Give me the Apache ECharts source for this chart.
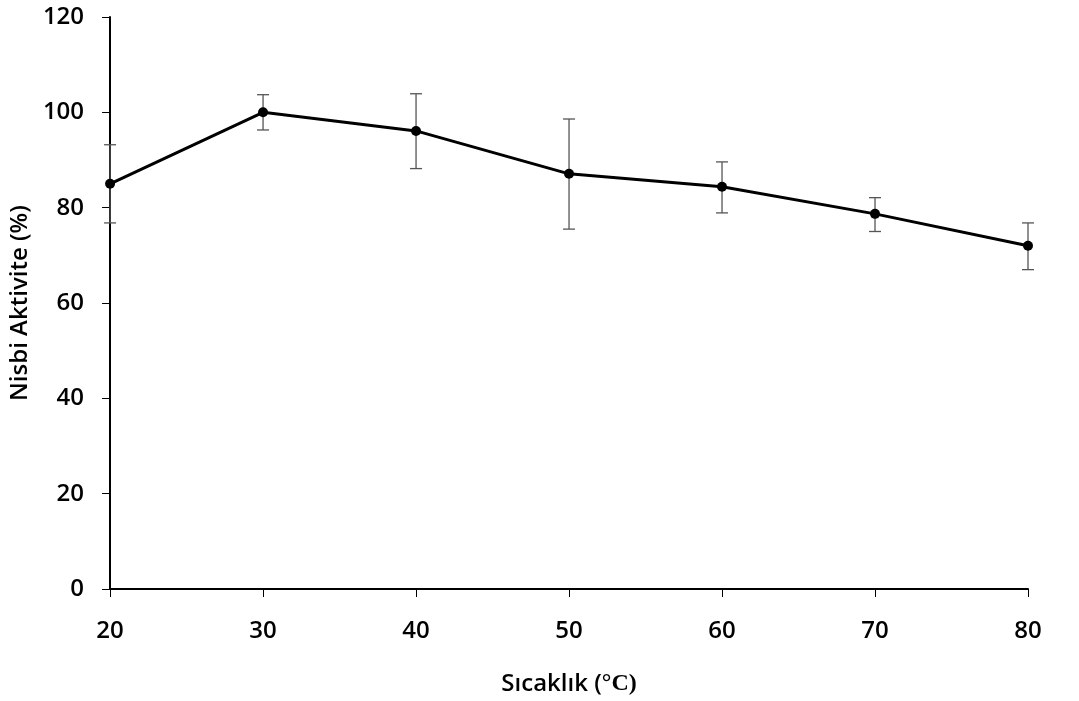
<!DOCTYPE html>
<html>
<head>
<meta charset="utf-8">
<script src="https://cdn.jsdelivr.net/npm/echarts@6/dist/echarts.min.js"></script>
<style>
html, body { margin: 0; padding: 0; background: #fff; }
#chart { width: 1079px; height: 701px; }
</style>
</head>
<body>
<div id="chart"></div>
<script>
var temps = [20, 30, 40, 50, 60, 70, 80];
var activity = [85.0, 100.0, 96.1, 87.1, 84.4, 78.7, 72.0];
var errLow = [76.8, 96.3, 88.2, 75.5, 78.9, 75.0, 67.0];
var errHigh = [93.2, 103.7, 103.9, 98.6, 89.6, 82.1, 76.8];
var yTicks = [0, 20, 40, 60, 80, 100, 120];

var myChart = echarts.init(document.getElementById('chart'));

var lineData = [];
var errData = [];
for (var i = 0; i < temps.length; i++) {
  lineData.push([temps[i], activity[i]]);
  errData.push([temps[i], errLow[i], errHigh[i]]);
}

var sans = '"Open Sans", "Noto Sans", sans-serif';

myChart.setOption({
  animation: false,
  grid: { left: 109, right: 51, top: 17, bottom: 111 },
  xAxis: {
    type: 'value',
    min: 20,
    max: 80,
    interval: 10,
    splitLine: { show: false },
    axisLine: { lineStyle: { color: '#000', width: 2 } },
    axisTick: { length: 8, lineStyle: { color: '#000', width: 1 } },
    axisLabel: {
      margin: 30,
      color: '#000',
      fontSize: 24,
      fontWeight: 600,
      fontFamily: sans
    },
    name: '{a|Sıcaklık (}{b|°C}{b|)}',
    nameLocation: 'middle',
    nameGap: 83,
    nameTextStyle: {
      rich: {
        a: { fontSize: 24, fontWeight: 600, color: '#000', fontFamily: sans },
        b: { fontSize: 24, fontWeight: 'bold', color: '#000', fontFamily: '"Liberation Serif", serif' }
      }
    }
  },
  yAxis: {
    type: 'value',
    min: yTicks[0],
    max: yTicks[yTicks.length - 1],
    interval: 20,
    splitLine: { show: false },
    axisLine: { show: true, lineStyle: { color: '#000', width: 2 } },
    axisTick: { show: true, length: 8, lineStyle: { color: '#000', width: 1 } },
    axisLabel: {
      margin: 26,
      color: '#000',
      fontSize: 24,
      fontWeight: 600,
      fontFamily: sans
    },
    name: 'Nisbi Aktivite (%)',
    nameLocation: 'middle',
    nameRotate: 90,
    nameGap: 75,
    nameTextStyle: {
      fontSize: 24,
      fontWeight: 600,
      color: '#000',
      fontFamily: sans
    }
  },
  series: [{
    type: 'custom',
    data: errData,
    z: 1,
    renderItem: function(params, api) {
      var x = api.value(0);
      var lo = api.coord([x, api.value(1)]);
      var hi = api.coord([x, api.value(2)]);
      var w = 6;
      var st = { stroke: '#555', lineWidth: 1.3 };
      return {
        type: 'group',
        children: [
          { type: 'line', shape: { x1: lo[0], y1: lo[1], x2: hi[0], y2: hi[1] }, style: st },
          { type: 'line', shape: { x1: lo[0] - w, y1: lo[1], x2: lo[0] + w, y2: lo[1] }, style: st },
          { type: 'line', shape: { x1: hi[0] - w, y1: hi[1], x2: hi[0] + w, y2: hi[1] }, style: st }
        ]
      };
    }
  }, {
    type: 'line',
    data: lineData,
    z: 3,
    symbol: 'circle',
    symbolSize: 10,
    lineStyle: { color: '#000', width: 3 },
    itemStyle: { color: '#000' }
  }]
});
</script>
</body>
</html>
